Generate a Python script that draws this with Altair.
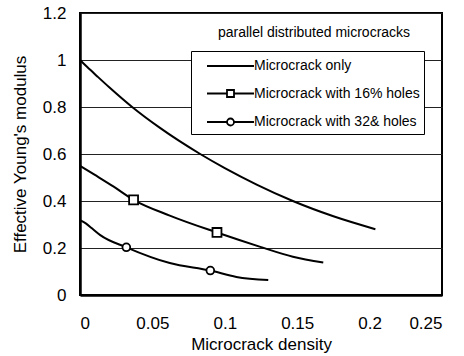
import altair as alt
import pandas as pd

names = ["Microcrack only", "Microcrack with 16% holes", "Microcrack with 32& holes"]

c1_x = [0.0, 0.005, 0.012, 0.020, 0.036, 0.055, 0.083, 0.100, 0.122, 0.147, 0.175, 0.204]
c1_y = [1.0, 0.970, 0.930, 0.885, 0.800, 0.712, 0.600, 0.540, 0.470, 0.400, 0.335, 0.280]

c2_x = [0.0, 0.010, 0.023, 0.037, 0.062, 0.0946, 0.110, 0.124, 0.147, 0.168]
c2_y = [0.550, 0.512, 0.462, 0.405, 0.338, 0.266, 0.234, 0.206, 0.163, 0.138]

c3_x = [0.0, 0.004, 0.008, 0.014, 0.032, 0.062, 0.090, 0.108, 0.130]
c3_y = [0.318, 0.305, 0.285, 0.255, 0.203, 0.136, 0.104, 0.077, 0.064]

m2_x = [0.037, 0.0946]
m2_y = [0.405, 0.266]
m3_x = [0.032, 0.090]
m3_y = [0.203, 0.104]

legend_paths = [
    "M0.1,0H4.8",
    "M0.1,0H2.1M2.8,0H4.8M2.1,-0.35H2.8V0.35H2.1Z",
    "M0.1,0H2.1M2.8,0H4.8M2.1,0A0.35,0.35 0 1,0 2.8,0A0.35,0.35 0 1,0 2.1,0Z",
]

rows = []
for name, xs_, ys_ in [(names[0], c1_x, c1_y), (names[1], c2_x, c2_y), (names[2], c3_x, c3_y)]:
    for i, (x, y) in enumerate(zip(xs_, ys_)):
        rows.append({"series": name, "x": x, "y": y, "i": i})
curves = pd.DataFrame(rows)

sq = pd.DataFrame({"x": m2_x, "y": m2_y})
ci = pd.DataFrame({"x": m3_x, "y": m3_y})
leg = pd.DataFrame({"series": names})

FONT = "Liberation Sans"

xs = alt.Scale(domain=[0, 0.25], nice=False)
ys = alt.Scale(domain=[0, 1.2], nice=False)

xax = alt.Axis(values=[0, 0.05, 0.1, 0.15, 0.2, 0.25], format="~g", grid=False, ticks=False,
               labelPadding=20, titlePadding=5, domainWidth=2.5, domainColor="black")
yax = alt.Axis(values=[0, 0.2, 0.4, 0.6, 0.8, 1.0, 1.2], format="~g", grid=True, ticks=False,
               gridColor="#222222", gridWidth=1, labelPadding=14, titlePadding=13,
               domainWidth=2.5, domainColor="black")

lines = alt.Chart(curves).mark_line(color="black", strokeWidth=2, interpolate="monotone").encode(
    x=alt.X("x:Q", scale=xs, axis=xax, title="Microcrack density"),
    y=alt.Y("y:Q", scale=ys, axis=yax, title="Effective Young's modulus"),
    detail="series:N",
    order="i:Q",
)

squares = alt.Chart(sq).mark_point(shape="square", size=80, filled=True, fill="white",
                                   stroke="black", strokeWidth=1.8, opacity=1).encode(
    x=alt.X("x:Q", scale=xs), y=alt.Y("y:Q", scale=ys))

circles = alt.Chart(ci).mark_point(shape="circle", size=60, filled=True, fill="white",
                                   stroke="black", strokeWidth=1.8, opacity=1).encode(
    x=alt.X("x:Q", scale=xs), y=alt.Y("y:Q", scale=ys))

legend_layer = alt.Chart(leg).mark_point(filled=False, color="black", strokeWidth=1.8, clip=True).encode(
    x=alt.value(-60), y=alt.value(-60),
    shape=alt.Shape("series:N",
                    scale=alt.Scale(domain=names, range=legend_paths),
                    legend=alt.Legend(title=None, orient="none", legendX=111, legendY=38,
                                      symbolSize=400, symbolOpacity=1, symbolStrokeWidth=1.8,
                                      symbolStrokeColor="black",
                                      labelFont=FONT, labelFontSize=14, labelColor="black",
                                      labelOffset=37, rowPadding=9.5,
                                      labelExpr="datum.label + '  '",
                                      fillColor="white", strokeColor="black", padding=4,
                                      labelLimit=300)),
)

chart = alt.layer(lines, squares, circles, legend_layer).properties(
    width=362, height=282,
    autosize=alt.AutoSizeParams(type="none"),
    padding={"left": 80, "top": 13, "right": 22, "bottom": 61},
    title=alt.TitleParams("parallel distributed microcracks", anchor="middle", dx=53, offset=-36,
                          font=FONT, fontSize=14, fontWeight="normal", color="black"),
).configure_view(stroke="black", strokeWidth=2).configure_axis(
    labelFont=FONT, titleFont=FONT, labelFontSize=17, titleFontSize=17,
    titleFontWeight="normal", labelColor="black", titleColor="black",
)

chart.save("out.html", embed_options={"renderer": "svg", "actions": False})
